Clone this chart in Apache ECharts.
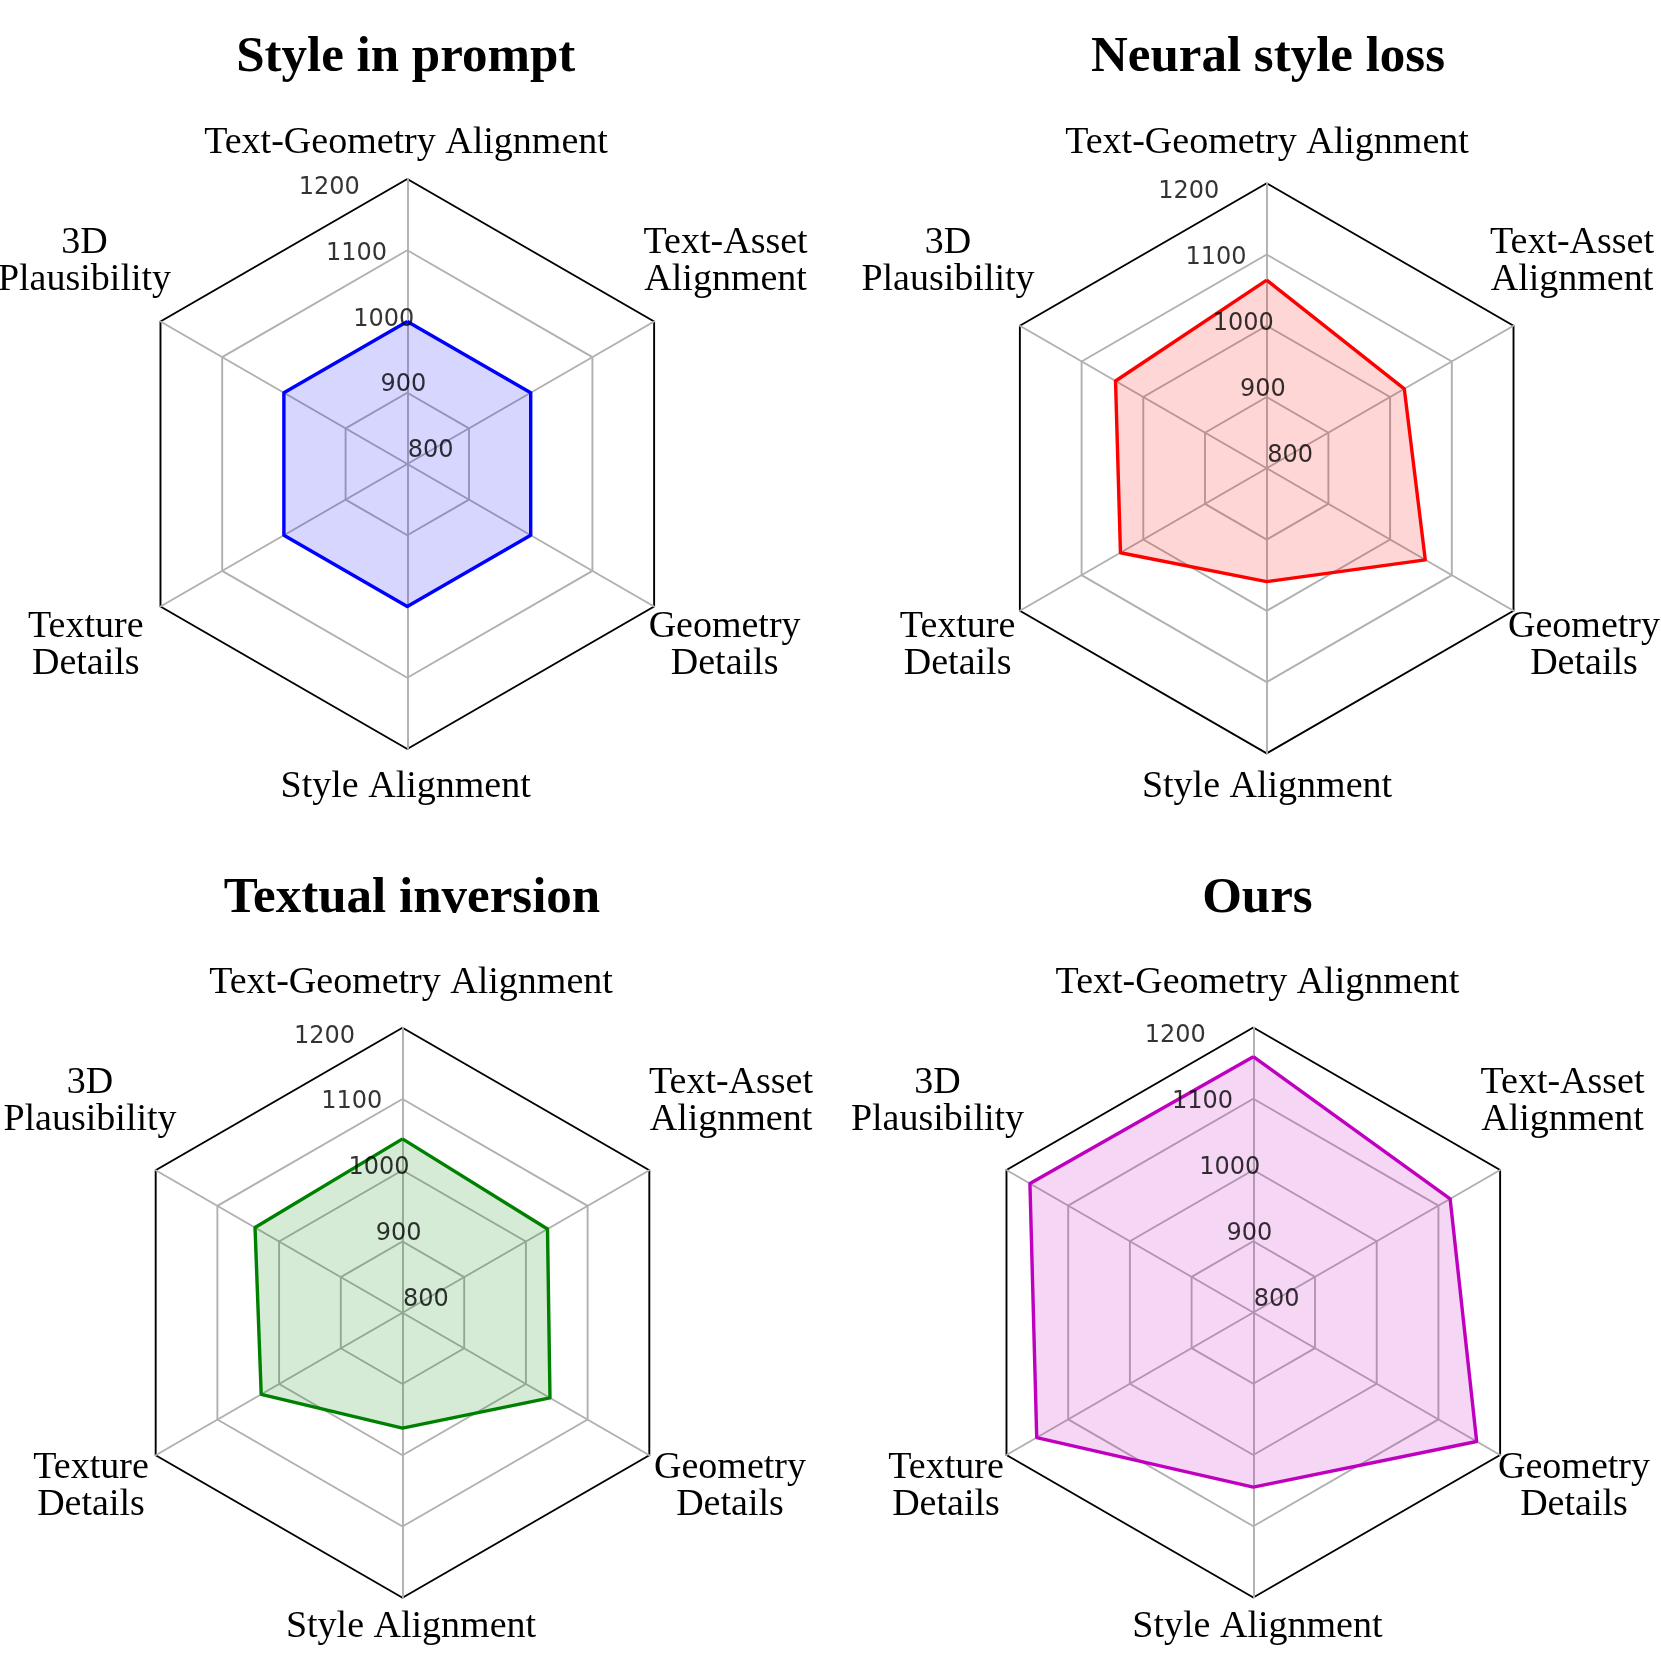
<!DOCTYPE html>
<html><head><meta charset="utf-8">
<script src="https://cdn.jsdelivr.net/npm/echarts/dist/echarts.min.js"></script>
<style>html,body{margin:0;padding:0;background:#fff}#c{width:1661px;height:1661px}</style>
</head><body><div id="c"></div>
<script>
// ---- data ----
const categories = ['Text-Geometry Alignment', 'Text-Asset\nAlignment', 'Geometry\nDetails', 'Style Alignment', 'Texture\nDetails', '3D\nPlausibility'];
const methods = ['Style in prompt', 'Neural style loss', 'Textual inversion', 'Ours'];
const styleInPrompt    = [1000, 1000, 1000, 1000, 1000, 1000];
const neuralStyleLoss  = [1064, 1023, 1057,  959, 1037, 1045];
const textualInversion = [1044, 1035, 1039,  962, 1029, 1039];
const ours             = [1159, 1119, 1162, 1045, 1151, 1162];
const tickValues = [800, 900, 1000, 1100, 1200];
const scoreMin = 800, scoreMax = 1200;

// ---- layout / style ----
const seriesValues = [styleInPrompt, neuralStyleLoss, textualInversion, ours];
const colors = ['#0000ff', '#ff0000', '#008000', '#bf00bf'];
const centers = [[407.3, 464], [1266.7, 468.3], [402.5, 1312.7], [1253.3, 1312.5]];
const R = 285;
const titlePos = [[405.7, 58], [1268, 58], [412, 899], [1257.4, 899]];
// label positions (category order) per chart
const labelPos = [
  [[406, 143], [725.6, 261.5], [724.6, 646], [405.7, 787], [85.8, 646], [84.5, 261.5]],
  [[1267, 143], [1572, 261.5], [1584, 645.5], [1267, 787], [957.6, 645.5], [948, 261.5]],
  [[411, 983], [731, 1102], [730, 1487], [411, 1627], [91, 1487], [90, 1102]],
  [[1257.4, 983], [1562.5, 1102], [1574, 1487], [1257.4, 1627.5], [946, 1487], [937.5, 1102]]
];
// ECharts places radar indicators counter-clockwise from the top
const order = [0, 5, 4, 3, 2, 1];

const chart = echarts.init(document.getElementById('c'), null, {renderer: 'canvas'});

const radar = [], polar = [], angleAxis = [], radiusAxis = [], series = [], graphic = [];
const gray = '#b0b0b0';
for (let i = 0; i < 4; i++) {
  radar.push({
    center: centers[i], radius: R, startAngle: 90, shape: 'polygon', splitNumber: 4,
    indicator: order.map(k => ({name: categories[k], min: scoreMin, max: scoreMax})),
    axisName: {show: false},
    axisLabel: {show: false},
    splitArea: {show: false},
    splitLine: {lineStyle: {color: [gray, gray, gray, gray, '#000000'], width: 1.9}},
    axisLine: {lineStyle: {color: gray, width: 1.9}},
    axisTick: {show: false}
  });
  polar.push({center: centers[i], radius: R});
  angleAxis.push({polarIndex: i, type: 'value', min: 0, max: 360, startAngle: 90, clockwise: false,
    axisLine: {show: false}, axisTick: {show: false}, axisLabel: {show: false}, splitLine: {show: false}, splitArea: {show: false}});
  radiusAxis.push({polarIndex: i, type: 'value', min: scoreMin, max: scoreMax,
    axisLine: {show: false}, axisTick: {show: false}, axisLabel: {show: false}, splitLine: {show: false}, splitArea: {show: false}});
  series.push({
    type: 'radar', radarIndex: i, symbol: 'none', silent: true, z: 2,
    lineStyle: {color: colors[i], width: 3.4},
    areaStyle: {color: colors[i], opacity: 0.16},
    data: [{name: methods[i], value: order.map(k => seriesValues[i][k])}]
  });
  series.push({
    type: 'scatter', coordinateSystem: 'polar', polarIndex: i, silent: true, z: 5,
    symbolSize: 1, itemStyle: {color: 'rgba(0,0,0,0)'},
    data: tickValues.map(v => [v, 22.5]),
    label: {show: true, position: 'right', distance: 0, offset: [0, -13],
      formatter: p => String(p.value[0]), fontFamily: 'DejaVu Sans', fontSize: 24, color: '#000000',
      textBorderWidth: 0}
  });
  graphic.push({type: 'text', x: titlePos[i][0], y: titlePos[i][1], silent: true,
    style: {text: methods[i], fontFamily: 'Liberation Serif', fontWeight: 'bold', fontSize: 51,
      fill: '#000', align: 'center', verticalAlign: 'middle'}});
  categories.forEach((c, k) => {
    graphic.push({type: 'text', x: labelPos[i][k][0], y: labelPos[i][k][1], silent: true,
      style: {text: c, fontFamily: 'Liberation Serif', fontSize: 38, lineHeight: 37,
        fill: '#000', align: 'center', verticalAlign: 'middle'}});
  });
}

chart.setOption({
  backgroundColor: '#ffffff',
  animation: false,
  radar, polar, angleAxis, radiusAxis, series, graphic
});
</script>
</body></html>
